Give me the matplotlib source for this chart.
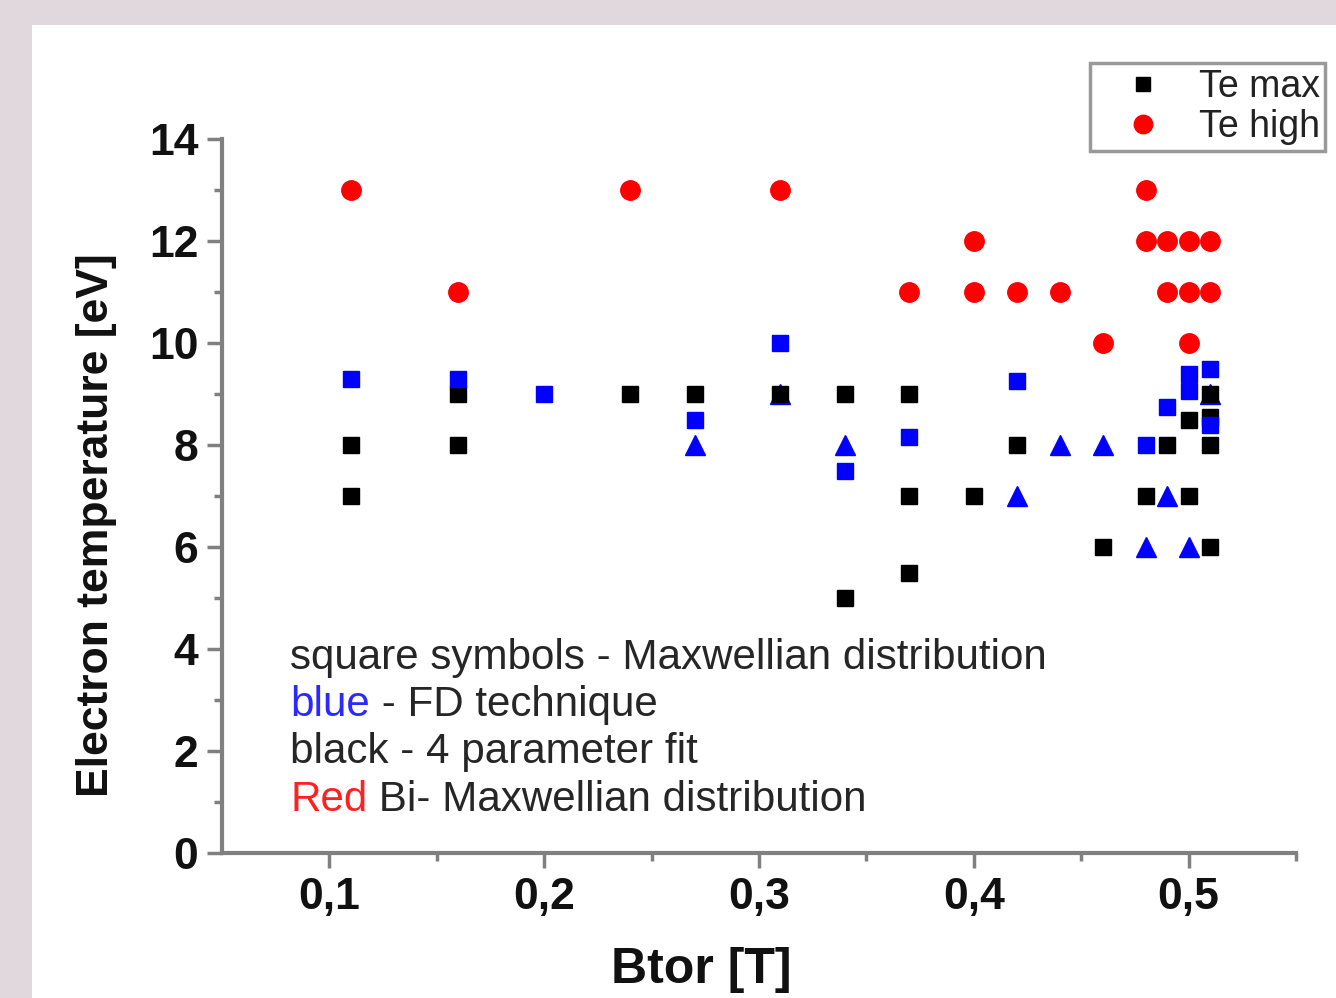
import matplotlib
matplotlib.use("Agg")
import matplotlib.pyplot as plt
from matplotlib.ticker import FixedLocator, FuncFormatter
from matplotlib.patches import Rectangle

plt.rcParams['font.family'] = ['Liberation Sans', 'DejaVu Sans']

# Te max (black squares, Maxwellian, 4 parameter fit)
temax_b = [0.11, 0.11, 0.16, 0.16, 0.24, 0.27, 0.31, 0.34, 0.34, 0.37, 0.37, 0.37,
           0.40, 0.42, 0.46, 0.48, 0.49, 0.50, 0.50, 0.51, 0.51, 0.51, 0.51]
temax_t = [8, 7, 9, 8, 9, 9, 9, 9, 5, 9, 7, 5.5,
           7, 8, 6, 7, 8, 8.5, 7, 9, 8.55, 8, 6]
# Te high (red circles, Bi-Maxwellian)
tehigh_b = [0.11, 0.16, 0.24, 0.31, 0.37, 0.40, 0.40, 0.42, 0.44, 0.46,
            0.48, 0.48, 0.49, 0.49, 0.50, 0.50, 0.50, 0.51, 0.51]
tehigh_t = [13, 11, 13, 13, 11, 12, 11, 11, 11, 10,
            13, 12, 12, 11, 12, 11, 10, 12, 11]
# FD technique, squares (blue)
fd_sq_b = [0.11, 0.16, 0.20, 0.27, 0.31, 0.34, 0.37, 0.42, 0.48, 0.49, 0.50, 0.50, 0.51, 0.51]
fd_sq_t = [9.3, 9.3, 9.0, 8.5, 10, 7.5, 8.15, 9.25, 8.0, 8.75, 9.4, 9.05, 9.5, 8.4]
# FD technique, triangles (blue)
fd_tr_b = [0.27, 0.31, 0.34, 0.42, 0.44, 0.46, 0.48, 0.49, 0.50, 0.51]
fd_tr_t = [8, 9, 8, 7, 8, 8, 6, 7, 6, 9]

xticks = [0.1, 0.2, 0.3, 0.4, 0.5]
yticks = [0, 2, 4, 6, 8, 10, 12, 14]

W, H = 1336, 998
fig = plt.figure(figsize=(W / 100, H / 100), dpi=100)
fig.patch.set_facecolor('#e1d8dd')
bg = Rectangle((32 / W, 0), 1, (H - 25) / H, transform=fig.transFigure,
               facecolor='white', edgecolor='none', zorder=-10)
fig.add_artist(bg)

ax = fig.add_axes([222 / W, (H - 853) / H, (1296 - 222) / W, (853 - 139) / H])
ax.set_zorder(1)
ax.set_facecolor('none')

ax.plot(fd_tr_b, fd_tr_t, linestyle='none', marker='^', ms=14, color='#0000ff', zorder=3)
ax.plot(temax_b, temax_t, linestyle='none', marker='s', ms=11, color='black', zorder=4,
        label='Te max')
ax.plot(fd_sq_b, fd_sq_t, linestyle='none', marker='s', ms=11, color='#0000ff', zorder=5)
ax.plot(tehigh_b, tehigh_t, linestyle='none', marker='o', ms=14, color='#ff0000', zorder=5,
        label='Te high')

ax.set_xlim(0.05, 0.55)
ax.set_ylim(0, 14)

for s in ['top', 'right']:
    ax.spines[s].set_visible(False)
for s in ['left', 'bottom']:
    ax.spines[s].set_color('#808080')
    ax.spines[s].set_linewidth(3)

ax.xaxis.set_major_locator(FixedLocator(xticks))
ax.xaxis.set_minor_locator(FixedLocator([0.15, 0.25, 0.35, 0.45, 0.55]))
ax.yaxis.set_major_locator(FixedLocator(yticks))
ax.yaxis.set_minor_locator(FixedLocator([1, 3, 5, 7, 9, 11, 13]))
ax.xaxis.set_major_formatter(FuncFormatter(lambda v, p: f"{v:.1f}".replace('.', ',')))
ax.yaxis.set_major_formatter(FuncFormatter(lambda v, p: f"{int(v)}"))

ax.tick_params(which='major', direction='out', length=11, width=2.5, color='#808080',
               labelsize=32, pad=6, labelcolor='#111111')
ax.tick_params(which='minor', direction='out', length=6, width=2.5, color='#808080')
for lab in ax.get_xticklabels() + ax.get_yticklabels():
    lab.set_fontweight('bold')

fig.text(97 / W, 1 - 525 / H, 'Electron temperature [eV]', rotation=90, ha='center',
         va='center', fontsize=32, fontweight='bold', color='#111111')
fig.text(701 / W, 1 - 970 / H, 'Btor [T]', ha='center', va='center', fontsize=36,
         fontweight='bold', color='#111111')

tc = '#262626'
fs = 30.3
x0 = (290 - 222) / (1296 - 222)
ax.text(x0, (853 - 658) / 714, 'square symbols - Maxwellian distribution', transform=ax.transAxes,
        fontsize=fs, color=tc, va='center', ha='left')
t1 = ax.text(x0, (853 - 705) / 714, 'blue', transform=ax.transAxes, fontsize=fs,
             color='#2a2aff', va='center', ha='left')
ax.annotate(' - FD technique', xy=(1, 0), xycoords=t1, va='bottom', ha='left',
            fontsize=fs, color=tc)
ax.text(x0, (853 - 752) / 714, 'black - 4 parameter fit', transform=ax.transAxes,
        fontsize=fs, color=tc, va='center', ha='left')
t2 = ax.text(x0, (853 - 800) / 714, 'Red', transform=ax.transAxes, fontsize=fs,
             color='#ff2020', va='center', ha='left')
ax.annotate(' Bi- Maxwellian distribution', xy=(1, 0), xycoords=t2, va='bottom', ha='left',
            fontsize=fs, color=tc)

leg = ax.legend(loc='upper left', bbox_to_anchor=(1090 / W, 1 - 63 / H),
                bbox_transform=fig.transFigure, borderaxespad=0, fontsize=27,
                frameon=True, fancybox=False, edgecolor='#999999', framealpha=1,
                handlelength=2.5, handletextpad=0.25, borderpad=0.15, labelspacing=0.12,
                markerscale=0.95)
leg.get_frame().set_linewidth(2.5)
for t in leg.get_texts():
    t.set_color('#222222')

fig.savefig('out.png', dpi=100, facecolor=fig.get_facecolor())
